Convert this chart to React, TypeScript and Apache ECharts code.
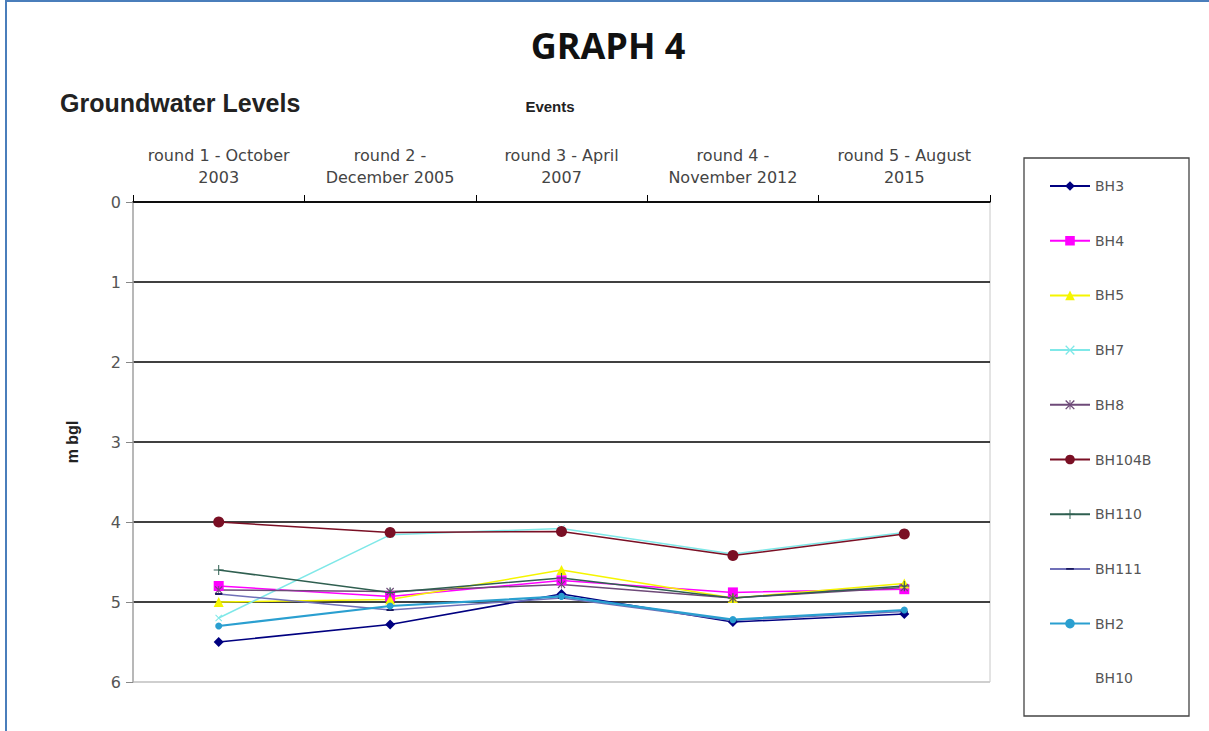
import React, { useEffect, useRef } from "react";
import * as echarts from "echarts";

const categories = [
  "round 1 - October\n2003",
  "round 2 -\nDecember 2005",
  "round 3 - April\n2007",
  "round 4 -\nNovember 2012",
  "round 5 - August\n2015",
];
const yTicks = [0, 1, 2, 3, 4, 5, 6];

const bh3 = [5.5, 5.28, 4.9, 5.25, 5.15];
const bh4 = [4.8, 4.93, 4.73, 4.88, 4.84];
const bh5 = [5.0, 4.97, 4.6, 4.95, 4.77];
const bh7 = [5.2, 4.16, 4.08, 4.4, 4.13];
const bh8 = [4.85, 4.87, 4.78, 4.95, 4.82];
const bh104b = [4.0, 4.13, 4.12, 4.42, 4.15];
const bh110 = [4.6, 4.88, 4.7, 4.95, 4.8];
const bh111 = [4.9, 5.1, 4.95, 5.23, 5.12];
const bh2 = [5.3, 5.05, 4.93, 5.22, 5.1];
const bh10: number[] = [];

const X_SYM = "path://M1,0L5,4L9,0L10,1L6,5L10,9L9,10L5,6L1,10L0,9L4,5L0,1Z";
const STAR_SYM = "path://M4.5,0h1v10h-1zM0,1l1,-1l9,9l-1,1zM10,1l-1,-1l-9,9l1,1z";
const PLUS_SYM = "path://M4.5,0h1v10h-1zM0,4.5h10v1h-10z";
const DASH_SYM = "path://M0,0h0.01v0.01h-0.01zM1,4h8v2h-8zM9.99,9.99h0.01v0.01h-0.01z";

const LABEL_FONT = "'DejaVu Sans', sans-serif";

export default function App() {
  const ref = useRef<HTMLDivElement>(null);
  useEffect(() => {
    document.body.style.margin = "0";
    const chart = echarts.init(ref.current!, null, { renderer: "svg" });
    const mk = (name: string, data: number[], color: string, symbol: string, size: any, lw = 1.5, extra: any = {}) => ({
      name,
      type: "line",
      data,
      symbol,
      symbolSize: size,
      showSymbol: symbol !== "none",
      lineStyle: { color, width: lw },
      itemStyle: { color, borderWidth: 0 },
      ...extra,
    });
    chart.setOption({
      animation: false,
      backgroundColor: "#ffffff",
      textStyle: { fontFamily: "Liberation Sans, Arial, sans-serif" },
      grid: {
        left: 133,
        top: 202,
        width: 857,
        height: 480,
        show: true,
        borderColor: "#c8c8c8",
        borderWidth: 1,
        backgroundColor: "transparent",
      },
      xAxis: {
        type: "category",
        position: "top",
        data: categories,
        boundaryGap: true,
        axisLine: { show: true, lineStyle: { color: "#000", width: 1.5 } },
        axisTick: { show: true, interval: 0, length: 7, lineStyle: { color: "#000" } },
        axisLabel: {
          color: "#444",
          fontSize: 16,
          fontFamily: LABEL_FONT,
          lineHeight: 22,
          margin: 14,
          interval: 0,
          hideOverlap: false,
        },
        splitLine: { show: false },
      },
      yAxis: {
        type: "value",
        inverse: true,
        min: 0,
        max: 6,
        interval: 1,
        name: "m bgl",
        nameLocation: "middle",
        nameGap: 53,
        nameTextStyle: { fontWeight: "bold", fontSize: 16, color: "#222" },
        axisLine: { show: true, lineStyle: { color: "#aaa", width: 1.5 } },
        axisTick: { show: true, length: 7, lineStyle: { color: "#888" } },
        axisLabel: { color: "#555", fontSize: 16, fontFamily: LABEL_FONT, margin: 12 },
        splitLine: {
          show: true,
          lineStyle: {
            color: ["#000", "#000", "#000", "#000", "#000", "#000", "#c8c8c8"],
            width: 1.5,
          },
        },
      },
      legend: {
        orient: "vertical",
        left: 1044,
        top: 174,
        itemWidth: 40,
        itemHeight: 12,
        itemGap: 40.7,
        textStyle: { color: "#555", fontSize: 14, fontFamily: LABEL_FONT },
        data: ["BH3", "BH4", "BH5", "BH7", "BH8", "BH104B", "BH110", "BH111", "BH2", "BH10"],
      },
      series: [
        mk("BH3", bh3, "#000080", "diamond", 10),
        mk("BH4", bh4, "#ff00ff", "rect", 10, 1.5),
        mk("BH5", bh5, "#f5f500", "triangle", 10),
        mk("BH7", bh7, "#7fe8e8", X_SYM, 7),
        mk("BH8", bh8, "#6e4a78", STAR_SYM, 8),
        mk("BH104B", bh104b, "#7a0f24", "circle", 11),
        mk("BH110", bh110, "#2f5f50", PLUS_SYM, 10),
        mk("BH111", bh111, "#7070b8", DASH_SYM, 9, 1.5, { itemStyle: { color: "#1a1a60", borderWidth: 0 } }),
        mk("BH2", bh2, "#2a9fd0", "circle", 7, 2.2),
        mk("BH10", bh10, "#ffffff", "none", 0),
      ],
      graphic: [
        { type: "line", shape: { x1: 6, y1: 0, x2: 6, y2: 731 }, style: { stroke: "#4a7ebb", lineWidth: 2 } },
        { type: "line", shape: { x1: 6, y1: 1, x2: 1209, y2: 1 }, style: { stroke: "#4a7ebb", lineWidth: 2 } },
        {
          type: "text",
          x: 608,
          y: 45,
          style: {
            text: "GRAPH 4",
            font: "bold 36px 'Open Sans', sans-serif",
            fill: "#111",
            textAlign: "center",
            textVerticalAlign: "middle",
          },
        },
        {
          type: "text",
          x: 60,
          y: 103,
          style: {
            text: "Groundwater Levels",
            font: "bold 25px 'Liberation Sans', Arial, sans-serif",
            fill: "#222",
            textAlign: "left",
            textVerticalAlign: "middle",
          },
        },
        {
          type: "text",
          x: 550,
          y: 106,
          style: {
            text: "Events",
            font: "bold 15px 'Liberation Sans', Arial, sans-serif",
            fill: "#222",
            textAlign: "center",
            textVerticalAlign: "middle",
          },
        },
        {
          type: "rect",
          shape: { x: 1024, y: 158, width: 165, height: 558 },
          style: { fill: "none", stroke: "#444", lineWidth: 1.3 },
        },
      ],
    });
    return () => chart.dispose();
  }, []);
  return <div ref={ref} style={{ width: 1209, height: 731 }} />;
}
